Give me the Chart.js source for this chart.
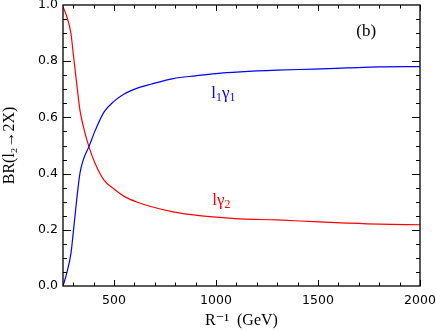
<!DOCTYPE html>
<html>
<head>
<meta charset="utf-8">
<script src="https://cdn.jsdelivr.net/npm/chart.js@4.4.1/dist/chart.umd.min.js"></script>
<style>
  body { margin: 0; background: #fff; }
</style>
</head>
<body>
<canvas id="c" width="436" height="330"></canvas>
<script>
// R^-1 in GeV
const rInv = [250, 268, 289, 300, 317, 333, 349, 377, 407, 450, 500, 550, 615, 680, 790, 900, 1000, 1120, 1300, 1480, 1640, 1800, 2000];
// BR(l2 -> l1 gamma1)
const brL1g1 = [0, 0.045, 0.116, 0.188, 0.306, 0.401, 0.448, 0.496, 0.552, 0.618, 0.657, 0.683, 0.704, 0.718, 0.738, 0.748, 0.756, 0.762, 0.768, 0.772, 0.776, 0.78, 0.781];
// BR(l2 -> l gamma2)
const brLg2 = [0.994, 0.96, 0.899, 0.828, 0.721, 0.626, 0.57, 0.496, 0.437, 0.378, 0.345, 0.319, 0.298, 0.283, 0.264, 0.252, 0.245, 0.239, 0.235, 0.229, 0.224, 0.22, 0.218];

const xTicks = [500, 1000, 1500, 2000];
const yTicks = [0, 0.2, 0.4, 0.6, 0.8, 1.0];

const serif = "'Liberation Serif', 'DejaVu Serif', serif";
const sans = "'DejaVu Sans', sans-serif";

function pts(ys) {
  return rInv.map((x, i) => ({ x: x, y: ys[i] }));
}

// frame with inward ticks on all four sides
const framePlugin = {
  id: 'frame',
  afterDraw(chart) {
    const { ctx, chartArea: a, scales: { x, y } } = chart;
    ctx.save();
    ctx.strokeStyle = '#000';
    ctx.lineWidth = 1.3;
    ctx.strokeRect(a.left, a.top, a.right - a.left, a.bottom - a.top);
    ctx.lineWidth = 1;
    ctx.beginPath();
    for (let v = 300; v <= 2000; v += 100) {
      const px = Math.round(x.getPixelForValue(v)) + 0.5;
      const len = v % 500 === 0 ? 6 : 3.5;
      ctx.moveTo(px, a.bottom); ctx.lineTo(px, a.bottom - len);
      ctx.moveTo(px, a.top); ctx.lineTo(px, a.top + len);
    }
    for (let k = 1; k < 20; k++) {
      const v = k * 0.05;
      const py = Math.round(y.getPixelForValue(v)) + 0.5;
      const len = k % 4 === 0 ? 8 : 4;
      ctx.moveTo(a.left, py); ctx.lineTo(a.left + len, py);
      ctx.moveTo(a.right, py); ctx.lineTo(a.right - len, py);
    }
    ctx.stroke();
    ctx.restore();
  }
};

// text with subscripts: parts = [[text, isSub], ...]
function drawParts(ctx, parts, cx, cy, color, size) {
  ctx.save();
  ctx.fillStyle = color;
  ctx.textBaseline = 'middle';
  ctx.textAlign = 'left';
  let w = 0;
  parts.forEach(p => {
    ctx.font = (p[1] ? size * 0.7 : size) + 'px ' + serif;
    w += ctx.measureText(p[0]).width;
  });
  let xx = cx - w / 2;
  parts.forEach(p => {
    ctx.font = (p[1] ? size * 0.7 : size) + 'px ' + serif;
    ctx.fillText(p[0], xx, p[1] ? cy + size * 0.25 : cy);
    xx += ctx.measureText(p[0]).width;
  });
  ctx.restore();
}

const labelPlugin = {
  id: 'labels',
  afterDraw(chart) {
    const { ctx, scales: { x, y } } = chart;
    drawParts(ctx, [['l', false], ['1', true], ['γ', false], ['1', true]],
      x.getPixelForValue(1036), y.getPixelForValue(0.686), '#0000ff', 17);
    drawParts(ctx, [['l', false], ['γ', false], ['2', true]],
      x.getPixelForValue(1026), y.getPixelForValue(0.305), '#ff0000', 17);
    drawParts(ctx, [['(b)', false]],
      x.getPixelForValue(1736), y.getPixelForValue(0.905), '#000', 17);
  }
};

new Chart(document.getElementById('c'), {
  type: 'line',
  data: {
    datasets: [
      { label: 'l1γ1', data: pts(brL1g1), borderColor: '#0000ff', borderWidth: 1.2, pointRadius: 0, cubicInterpolationMode: 'monotone', fill: false },
      { label: 'lγ2', data: pts(brLg2), borderColor: '#ff0000', borderWidth: 1.2, pointRadius: 0, cubicInterpolationMode: 'monotone', fill: false }
    ]
  },
  options: {
    responsive: false,
    animation: false,
    layout: { padding: { left: 0, right: 16, top: 5, bottom: 0 } },
    plugins: { legend: { display: false }, tooltip: { enabled: false } },
    scales: {
      x: {
        type: 'linear',
        min: 250,
        max: 2000,
        grid: { display: false, drawTicks: false },
        border: { display: false },
        afterBuildTicks: s => { s.ticks = xTicks.map(v => ({ value: v })); },
        afterFit: s => { s.height = 44; s.paddingLeft = 0; s.paddingRight = 0; },
        ticks: { color: '#000', font: { family: sans, size: 12.5 }, padding: 7, maxRotation: 0, callback: v => String(v) },
        title: { display: true, text: 'R⁻¹  (GeV)', color: '#000', font: { family: serif, size: 16 }, padding: { top: 0, bottom: 0 } }
      },
      y: {
        type: 'linear',
        min: 0,
        max: 1,
        grid: { display: false, drawTicks: false },
        border: { display: false },
        afterBuildTicks: s => { s.ticks = yTicks.map(v => ({ value: v })); },
        afterFit: s => { s.width = 63; s.paddingTop = 0; s.paddingBottom = 0; },
        ticks: { color: '#000', font: { family: sans, size: 12.5 }, padding: 5, callback: v => v.toFixed(1) },
        title: { display: true, text: 'BR(l₂→2X)', color: '#000', font: { family: serif, size: 16 }, padding: { top: 0, bottom: 0 } }
      }
    }
  },
  plugins: [framePlugin, labelPlugin]
});
</script>
</body>
</html>
